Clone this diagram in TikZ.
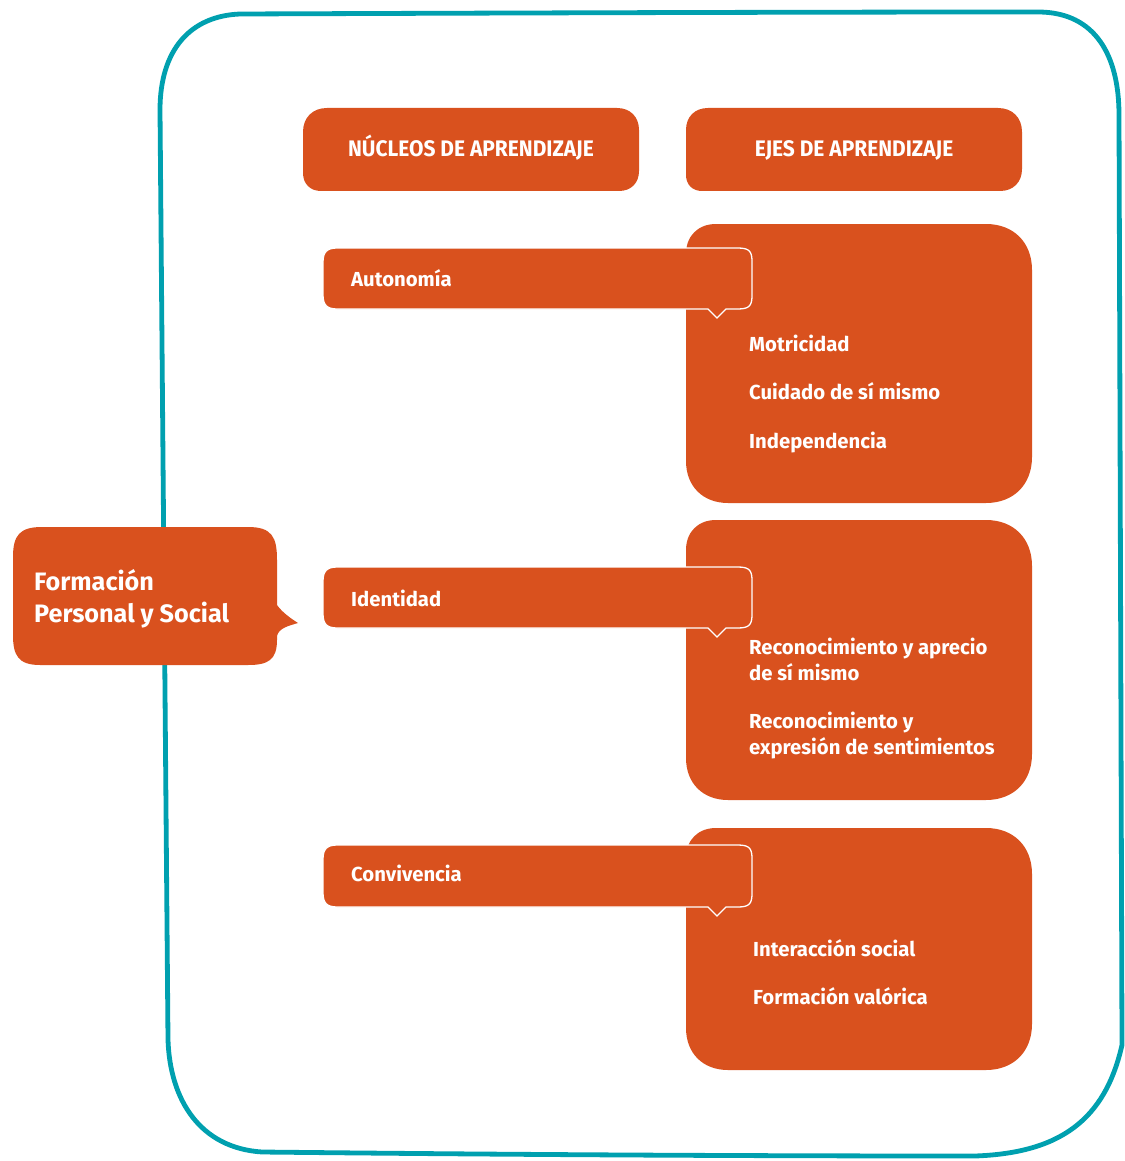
\documentclass[tikz,border=0pt]{standalone}
\usepackage{fontspec}
\setmainfont{Fira Sans}
\newfontfamily\condfont[FakeStretch=0.93]{Fira Sans}
\definecolor{orng}{RGB}{217,81,30}
\definecolor{teal}{RGB}{0,160,175}
\newcommand\softbox[9][]{%
  \fill[#1] (#2+#6,#3) -- (#4-#7,#3) .. controls (#4-0.4*#7,#3) and (#4,#3+0.4*#7) .. (#4,#3+#7)
   -- (#4,#5-#8) .. controls (#4,#5-0.4*#8) and (#4-0.4*#8,#5) .. (#4-#8,#5)
   -- (#2+#9,#5) .. controls (#2+0.4*#9,#5) and (#2,#5-0.4*#9) .. (#2,#5-#9)
   -- (#2,#3+#6) .. controls (#2,#3+0.4*#6) and (#2+0.4*#6,#3) .. cycle;}
\newcommand\bubble[2]{% #1 top y, #2 bottom y
  \filldraw[fill=orng,draw=white,line width=1.3pt]
   (337,#1) -- (738,#1) .. controls (750,#1) and (752,#1+4) .. (752,#1+14)
   -- (752,#2-14) .. controls (752,#2-4) and (750,#2) .. (738,#2)
   -- (726,#2) -- (717,#2+9) -- (708,#2) -- (337,#2)
   .. controls (327,#2) and (323,#2-4) .. (323,#2-14)
   -- (323,#1+14) .. controls (323,#1+4) and (327,#1) .. cycle;}
\begin{document}
\begin{tikzpicture}[x=1pt,y=-1pt,
  txt/.style={text=white,font=\fontsize{20.3}{24}\selectfont\bfseries,inner sep=0pt,anchor=base west},
  hdr/.style={text=white,font=\condfont\fontsize{22.5}{26}\selectfont\bfseries,inner sep=0pt,anchor=base},
  big/.style={text=white,font=\fontsize{25.2}{30}\selectfont\bfseries,inner sep=0pt,anchor=base west}]
\useasboundingbox (0,0) rectangle (1124,1161);
% frame
\draw[teal,line width=4.8pt,line join=round]
  (240,14) .. controls (500,13) and (800,12) .. (1040,12)
  .. controls (1095,13) and (1119,55) .. (1119,115)
  -- (1122,1045)
  .. controls (1105,1120) and (1060,1153) .. (975,1156)
  .. controls (700,1156) and (450,1154) .. (262,1152)
  .. controls (200,1148) and (170,1100) .. (168,1040)
  -- (160,110)
  .. controls (160,50) and (190,16) .. cycle;
% headers
\softbox[orng]{303}{108}{639}{191}{24}{22}{20}{18}
\softbox[orng]{686}{108}{1022}{191}{22}{24}{22}{16}
\node[hdr] (nuc) at (471,157) {NÚCLEOS DE APRENDIZAJE};
\node[hdr] (ejes) at (854,157) {EJES DE APRENDIZAJE};
% big boxes
\softbox[orng]{686}{224}{1032}{503}{30}{46}{46}{42}
\softbox[orng]{686}{520}{1032}{800}{30}{46}{46}{42}
\softbox[orng]{686}{828}{1032}{1070}{30}{46}{46}{42}
% bubbles
\bubble{248}{309}
\bubble{567}{628}
\bubble{845}{907}
\node[txt] (auto) at (351,286) {Autonomía};
\node[txt] (iden) at (351,606) {Identidad};
\node[txt] (conv) at (351,881) {Convivencia};
% ejes texts
\node[txt] (e1) at (749,351) {Motricidad};
\node[txt] (e2) at (749,399) {Cuidado de sí mismo};
\node[txt] (e3) at (749,448) {Independencia};
\node[txt] (e4a) at (749,654) {Reconocimiento y aprecio};
\node[txt] (e4b) at (749,680) {de sí mismo};
\node[txt] (e5a) at (749,728) {Reconocimiento y};
\node[txt] (e5b) at (749,754) {expresión de sentimientos};
\node[txt] (e6) at (753,956) {Interacción social};
\node[txt] (e7) at (753,1004) {Formación valórica};
% Formacion box
\fill[orng] (42,527) -- (248,527) .. controls (272,527) and (277,537) .. (277,560)
  -- (277,605) .. controls (282,612) and (290,618) .. (298,623)
  .. controls (288,626) and (279,628) .. (277,636)
  -- (277,640) .. controls (277,660) and (268,665) .. (248,665)
  -- (40,665) .. controls (18,665) and (13,655) .. (13,635)
  -- (13,557) .. controls (13,535) and (20,527) .. cycle;
\node[big] (f1) at (34,590) {Formación};
\node[big] (f2) at (34,622) {Personal y Social};
\end{tikzpicture}
\end{document}
